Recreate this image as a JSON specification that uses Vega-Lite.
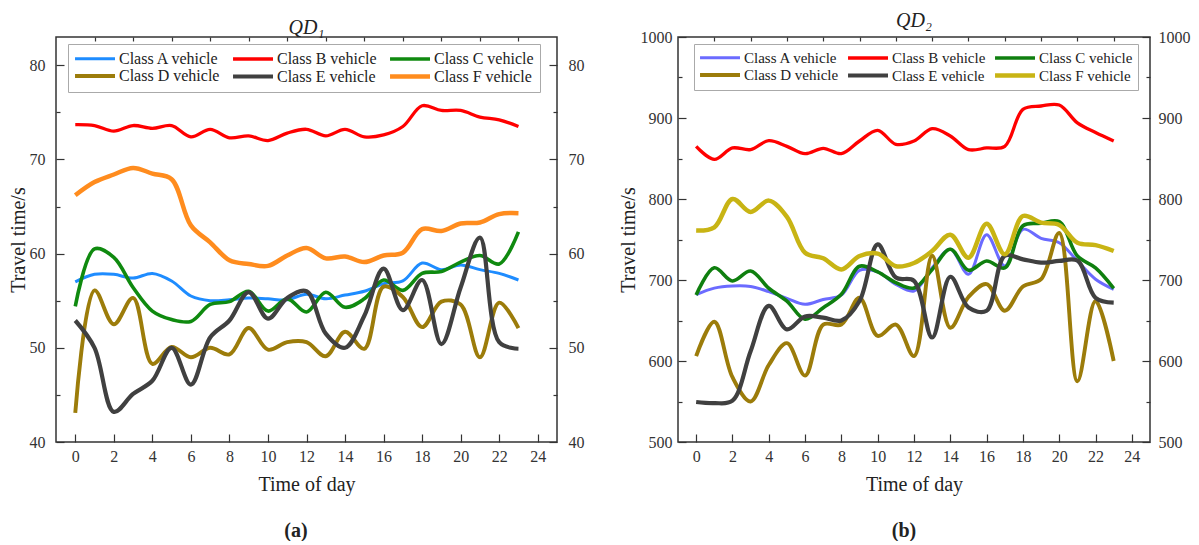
{
  "$schema": "https://vega.github.io/schema/vega-lite/v6.json",
  "padding": {"left": 7, "top": 10, "right": 2, "bottom": 0},
  "config": {
    "font": "Liberation Serif",
    "view": {"stroke": "#333333", "strokeWidth": 1.5},
    "axis": {
      "domain": false, "grid": false, "labelOverlap": false, "labelFlush": false,
      "labelFont": "Liberation Serif", "labelFontSize": 16, "labelColor": "#333333",
      "titleFont": "Liberation Serif", "titleFontSize": 20, "titleFontWeight": "normal", "titleColor": "#222222",
      "tickColor": "#333333", "tickWidth": 1.2
    },
    "legend": {
      "orient": "none", "columns": 3, "direction": "horizontal", "title": null,
      "symbolType": "M-1.21,0H4.5", "symbolSize": 196, "symbolStrokeWidth": 3,
      "labelFont": "Liberation Serif", "labelFontSize": 16, "labelColor": "#222222",
      "labelOffset": 26, "columnPadding": 4, "rowPadding": 0, "padding": 6,
      "strokeColor": "#aaaaaa", "fillColor": "#ffffff", "labelLimit": 200
    },
    "title": {"font": "Liberation Serif", "color": "#222222"}
  },
  "datasets": {
    "qd1": [
      {"class":"Class A vehicle","hour":0,"time":57.0},{"class":"Class A vehicle","hour":1,"time":57.8},{"class":"Class A vehicle","hour":2,"time":57.8},{"class":"Class A vehicle","hour":3,"time":57.4},{"class":"Class A vehicle","hour":4,"time":57.9},{"class":"Class A vehicle","hour":5,"time":57.1},{"class":"Class A vehicle","hour":6,"time":55.5},{"class":"Class A vehicle","hour":7,"time":55.0},{"class":"Class A vehicle","hour":8,"time":55.1},{"class":"Class A vehicle","hour":9,"time":55.3},{"class":"Class A vehicle","hour":10,"time":55.2},{"class":"Class A vehicle","hour":11,"time":55.1},{"class":"Class A vehicle","hour":12,"time":55.7},{"class":"Class A vehicle","hour":13,"time":55.2},{"class":"Class A vehicle","hour":14,"time":55.6},{"class":"Class A vehicle","hour":15,"time":56.0},{"class":"Class A vehicle","hour":16,"time":56.8},{"class":"Class A vehicle","hour":17,"time":57.1},{"class":"Class A vehicle","hour":18,"time":59.0},{"class":"Class A vehicle","hour":19,"time":58.3},{"class":"Class A vehicle","hour":20,"time":58.8},{"class":"Class A vehicle","hour":21,"time":58.3},{"class":"Class A vehicle","hour":22,"time":57.9},{"class":"Class A vehicle","hour":23,"time":57.2},
      {"class":"Class B vehicle","hour":0,"time":73.7},{"class":"Class B vehicle","hour":1,"time":73.6},{"class":"Class B vehicle","hour":2,"time":73.0},{"class":"Class B vehicle","hour":3,"time":73.6},{"class":"Class B vehicle","hour":4,"time":73.3},{"class":"Class B vehicle","hour":5,"time":73.6},{"class":"Class B vehicle","hour":6,"time":72.4},{"class":"Class B vehicle","hour":7,"time":73.2},{"class":"Class B vehicle","hour":8,"time":72.3},{"class":"Class B vehicle","hour":9,"time":72.5},{"class":"Class B vehicle","hour":10,"time":72.0},{"class":"Class B vehicle","hour":11,"time":72.8},{"class":"Class B vehicle","hour":12,"time":73.2},{"class":"Class B vehicle","hour":13,"time":72.5},{"class":"Class B vehicle","hour":14,"time":73.2},{"class":"Class B vehicle","hour":15,"time":72.4},{"class":"Class B vehicle","hour":16,"time":72.6},{"class":"Class B vehicle","hour":17,"time":73.5},{"class":"Class B vehicle","hour":18,"time":75.7},{"class":"Class B vehicle","hour":19,"time":75.2},{"class":"Class B vehicle","hour":20,"time":75.2},{"class":"Class B vehicle","hour":21,"time":74.5},{"class":"Class B vehicle","hour":22,"time":74.2},{"class":"Class B vehicle","hour":23,"time":73.5},
      {"class":"Class C vehicle","hour":0,"time":54.4},{"class":"Class C vehicle","hour":1,"time":60.5},{"class":"Class C vehicle","hour":2,"time":59.6},{"class":"Class C vehicle","hour":3,"time":56.4},{"class":"Class C vehicle","hour":4,"time":53.9},{"class":"Class C vehicle","hour":5,"time":53.0},{"class":"Class C vehicle","hour":6,"time":52.8},{"class":"Class C vehicle","hour":7,"time":54.6},{"class":"Class C vehicle","hour":8,"time":54.9},{"class":"Class C vehicle","hour":9,"time":56.0},{"class":"Class C vehicle","hour":10,"time":53.9},{"class":"Class C vehicle","hour":11,"time":55.2},{"class":"Class C vehicle","hour":12,"time":53.8},{"class":"Class C vehicle","hour":13,"time":55.9},{"class":"Class C vehicle","hour":14,"time":54.3},{"class":"Class C vehicle","hour":15,"time":55.2},{"class":"Class C vehicle","hour":16,"time":57.2},{"class":"Class C vehicle","hour":17,"time":56.1},{"class":"Class C vehicle","hour":18,"time":57.9},{"class":"Class C vehicle","hour":19,"time":58.1},{"class":"Class C vehicle","hour":20,"time":59.1},{"class":"Class C vehicle","hour":21,"time":59.8},{"class":"Class C vehicle","hour":22,"time":58.9},{"class":"Class C vehicle","hour":23,"time":62.3},
      {"class":"Class D vehicle","hour":0,"time":43.1},{"class":"Class D vehicle","hour":1,"time":56.1},{"class":"Class D vehicle","hour":2,"time":52.5},{"class":"Class D vehicle","hour":3,"time":55.3},{"class":"Class D vehicle","hour":4,"time":48.3},{"class":"Class D vehicle","hour":5,"time":50.1},{"class":"Class D vehicle","hour":6,"time":49.0},{"class":"Class D vehicle","hour":7,"time":50.0},{"class":"Class D vehicle","hour":8,"time":49.3},{"class":"Class D vehicle","hour":9,"time":52.1},{"class":"Class D vehicle","hour":10,"time":49.8},{"class":"Class D vehicle","hour":11,"time":50.6},{"class":"Class D vehicle","hour":12,"time":50.6},{"class":"Class D vehicle","hour":13,"time":49.1},{"class":"Class D vehicle","hour":14,"time":51.7},{"class":"Class D vehicle","hour":15,"time":49.9},{"class":"Class D vehicle","hour":16,"time":56.5},{"class":"Class D vehicle","hour":17,"time":55.4},{"class":"Class D vehicle","hour":18,"time":52.2},{"class":"Class D vehicle","hour":19,"time":54.9},{"class":"Class D vehicle","hour":20,"time":54.6},{"class":"Class D vehicle","hour":21,"time":49.0},{"class":"Class D vehicle","hour":22,"time":54.8},{"class":"Class D vehicle","hour":23,"time":52.1},
      {"class":"Class E vehicle","hour":0,"time":52.9},{"class":"Class E vehicle","hour":1,"time":50.0},{"class":"Class E vehicle","hour":2,"time":43.2},{"class":"Class E vehicle","hour":3,"time":45.1},{"class":"Class E vehicle","hour":4,"time":46.5},{"class":"Class E vehicle","hour":5,"time":50.0},{"class":"Class E vehicle","hour":6,"time":46.1},{"class":"Class E vehicle","hour":7,"time":51.1},{"class":"Class E vehicle","hour":8,"time":52.9},{"class":"Class E vehicle","hour":9,"time":55.9},{"class":"Class E vehicle","hour":10,"time":53.1},{"class":"Class E vehicle","hour":11,"time":55.3},{"class":"Class E vehicle","hour":12,"time":56.0},{"class":"Class E vehicle","hour":13,"time":51.5},{"class":"Class E vehicle","hour":14,"time":50.0},{"class":"Class E vehicle","hour":15,"time":53.4},{"class":"Class E vehicle","hour":16,"time":58.4},{"class":"Class E vehicle","hour":17,"time":54.0},{"class":"Class E vehicle","hour":18,"time":57.2},{"class":"Class E vehicle","hour":19,"time":50.4},{"class":"Class E vehicle","hour":20,"time":56.4},{"class":"Class E vehicle","hour":21,"time":61.7},{"class":"Class E vehicle","hour":22,"time":50.6},{"class":"Class E vehicle","hour":23,"time":49.9},
      {"class":"Class F vehicle","hour":0,"time":66.2},{"class":"Class F vehicle","hour":1,"time":67.6},{"class":"Class F vehicle","hour":2,"time":68.4},{"class":"Class F vehicle","hour":3,"time":69.1},{"class":"Class F vehicle","hour":4,"time":68.5},{"class":"Class F vehicle","hour":5,"time":67.9},{"class":"Class F vehicle","hour":6,"time":63.0},{"class":"Class F vehicle","hour":7,"time":61.2},{"class":"Class F vehicle","hour":8,"time":59.3},{"class":"Class F vehicle","hour":9,"time":58.9},{"class":"Class F vehicle","hour":10,"time":58.7},{"class":"Class F vehicle","hour":11,"time":59.8},{"class":"Class F vehicle","hour":12,"time":60.6},{"class":"Class F vehicle","hour":13,"time":59.5},{"class":"Class F vehicle","hour":14,"time":59.7},{"class":"Class F vehicle","hour":15,"time":59.1},{"class":"Class F vehicle","hour":16,"time":59.8},{"class":"Class F vehicle","hour":17,"time":60.1},{"class":"Class F vehicle","hour":18,"time":62.6},{"class":"Class F vehicle","hour":19,"time":62.4},{"class":"Class F vehicle","hour":20,"time":63.2},{"class":"Class F vehicle","hour":21,"time":63.3},{"class":"Class F vehicle","hour":22,"time":64.2},{"class":"Class F vehicle","hour":23,"time":64.3}
    ],
    "qd2": [
      {"class":"Class A vehicle","hour":0,"time":682},{"class":"Class A vehicle","hour":1,"time":690},{"class":"Class A vehicle","hour":2,"time":692.6},{"class":"Class A vehicle","hour":3,"time":692},{"class":"Class A vehicle","hour":4,"time":685.6},{"class":"Class A vehicle","hour":5,"time":677.4},{"class":"Class A vehicle","hour":6,"time":670},{"class":"Class A vehicle","hour":7,"time":676},{"class":"Class A vehicle","hour":8,"time":681.5},{"class":"Class A vehicle","hour":9,"time":712},{"class":"Class A vehicle","hour":10,"time":710},{"class":"Class A vehicle","hour":11,"time":694.7},{"class":"Class A vehicle","hour":12,"time":686.4},{"class":"Class A vehicle","hour":13,"time":715},{"class":"Class A vehicle","hour":14,"time":737.9},{"class":"Class A vehicle","hour":15,"time":707},{"class":"Class A vehicle","hour":16,"time":756},{"class":"Class A vehicle","hour":17,"time":717.3},{"class":"Class A vehicle","hour":18,"time":762.6},{"class":"Class A vehicle","hour":19,"time":751.5},{"class":"Class A vehicle","hour":20,"time":746},{"class":"Class A vehicle","hour":21,"time":723.5},{"class":"Class A vehicle","hour":22,"time":701},{"class":"Class A vehicle","hour":23,"time":688.5},
      {"class":"Class B vehicle","hour":0,"time":865},{"class":"Class B vehicle","hour":1,"time":849},{"class":"Class B vehicle","hour":2,"time":863},{"class":"Class B vehicle","hour":3,"time":861},{"class":"Class B vehicle","hour":4,"time":872},{"class":"Class B vehicle","hour":5,"time":865},{"class":"Class B vehicle","hour":6,"time":856},{"class":"Class B vehicle","hour":7,"time":862.6},{"class":"Class B vehicle","hour":8,"time":856},{"class":"Class B vehicle","hour":9,"time":871.6},{"class":"Class B vehicle","hour":10,"time":884.8},{"class":"Class B vehicle","hour":11,"time":867.5},{"class":"Class B vehicle","hour":12,"time":871.6},{"class":"Class B vehicle","hour":13,"time":886.8},{"class":"Class B vehicle","hour":14,"time":877.8},{"class":"Class B vehicle","hour":15,"time":861},{"class":"Class B vehicle","hour":16,"time":863},{"class":"Class B vehicle","hour":17,"time":865},{"class":"Class B vehicle","hour":18,"time":910.7},{"class":"Class B vehicle","hour":19,"time":914.8},{"class":"Class B vehicle","hour":20,"time":916},{"class":"Class B vehicle","hour":21,"time":894},{"class":"Class B vehicle","hour":22,"time":882},{"class":"Class B vehicle","hour":23,"time":871.6},
      {"class":"Class C vehicle","hour":0,"time":681.5},{"class":"Class C vehicle","hour":1,"time":715},{"class":"Class C vehicle","hour":2,"time":698.8},{"class":"Class C vehicle","hour":3,"time":711},{"class":"Class C vehicle","hour":4,"time":689.8},{"class":"Class C vehicle","hour":5,"time":674},{"class":"Class C vehicle","hour":6,"time":651.5},{"class":"Class C vehicle","hour":7,"time":665.8},{"class":"Class C vehicle","hour":8,"time":682.3},{"class":"Class C vehicle","hour":9,"time":717},{"class":"Class C vehicle","hour":10,"time":710},{"class":"Class C vehicle","hour":11,"time":696.7},{"class":"Class C vehicle","hour":12,"time":690},{"class":"Class C vehicle","hour":13,"time":713},{"class":"Class C vehicle","hour":14,"time":738},{"class":"Class C vehicle","hour":15,"time":712},{"class":"Class C vehicle","hour":16,"time":723.5},{"class":"Class C vehicle","hour":17,"time":715},{"class":"Class C vehicle","hour":18,"time":767},{"class":"Class C vehicle","hour":19,"time":770},{"class":"Class C vehicle","hour":20,"time":772},{"class":"Class C vehicle","hour":21,"time":729.6},{"class":"Class C vehicle","hour":22,"time":715},{"class":"Class C vehicle","hour":23,"time":689.8},
      {"class":"Class D vehicle","hour":0,"time":606},{"class":"Class D vehicle","hour":1,"time":648.5},{"class":"Class D vehicle","hour":2,"time":580},{"class":"Class D vehicle","hour":3,"time":550},{"class":"Class D vehicle","hour":4,"time":595},{"class":"Class D vehicle","hour":5,"time":622},{"class":"Class D vehicle","hour":6,"time":582},{"class":"Class D vehicle","hour":7,"time":645},{"class":"Class D vehicle","hour":8,"time":645},{"class":"Class D vehicle","hour":9,"time":678},{"class":"Class D vehicle","hour":10,"time":631},{"class":"Class D vehicle","hour":11,"time":645},{"class":"Class D vehicle","hour":12,"time":606},{"class":"Class D vehicle","hour":13,"time":730},{"class":"Class D vehicle","hour":14,"time":641},{"class":"Class D vehicle","hour":15,"time":679},{"class":"Class D vehicle","hour":16,"time":695},{"class":"Class D vehicle","hour":17,"time":662},{"class":"Class D vehicle","hour":18,"time":692},{"class":"Class D vehicle","hour":19,"time":701},{"class":"Class D vehicle","hour":20,"time":758},{"class":"Class D vehicle","hour":21,"time":575},{"class":"Class D vehicle","hour":22,"time":674},{"class":"Class D vehicle","hour":23,"time":600},
      {"class":"Class E vehicle","hour":0,"time":549.4},{"class":"Class E vehicle","hour":1,"time":548},{"class":"Class E vehicle","hour":2,"time":551},{"class":"Class E vehicle","hour":3,"time":612},{"class":"Class E vehicle","hour":4,"time":668},{"class":"Class E vehicle","hour":5,"time":639},{"class":"Class E vehicle","hour":6,"time":655},{"class":"Class E vehicle","hour":7,"time":653.5},{"class":"Class E vehicle","hour":8,"time":650},{"class":"Class E vehicle","hour":9,"time":674},{"class":"Class E vehicle","hour":10,"time":744},{"class":"Class E vehicle","hour":11,"time":703},{"class":"Class E vehicle","hour":12,"time":699},{"class":"Class E vehicle","hour":13,"time":629},{"class":"Class E vehicle","hour":14,"time":704},{"class":"Class E vehicle","hour":15,"time":666},{"class":"Class E vehicle","hour":16,"time":662},{"class":"Class E vehicle","hour":17,"time":730},{"class":"Class E vehicle","hour":18,"time":725.5},{"class":"Class E vehicle","hour":19,"time":721.4},{"class":"Class E vehicle","hour":20,"time":723.5},{"class":"Class E vehicle","hour":21,"time":724},{"class":"Class E vehicle","hour":22,"time":678},{"class":"Class E vehicle","hour":23,"time":672},
      {"class":"Class F vehicle","hour":0,"time":761},{"class":"Class F vehicle","hour":1,"time":765},{"class":"Class F vehicle","hour":2,"time":800},{"class":"Class F vehicle","hour":3,"time":784},{"class":"Class F vehicle","hour":4,"time":798},{"class":"Class F vehicle","hour":5,"time":778},{"class":"Class F vehicle","hour":6,"time":733.7},{"class":"Class F vehicle","hour":7,"time":726.8},{"class":"Class F vehicle","hour":8,"time":713},{"class":"Class F vehicle","hour":9,"time":729.6},{"class":"Class F vehicle","hour":10,"time":732.5},{"class":"Class F vehicle","hour":11,"time":717},{"class":"Class F vehicle","hour":12,"time":721},{"class":"Class F vehicle","hour":13,"time":735.8},{"class":"Class F vehicle","hour":14,"time":756},{"class":"Class F vehicle","hour":15,"time":727.5},{"class":"Class F vehicle","hour":16,"time":769.5},{"class":"Class F vehicle","hour":17,"time":731.7},{"class":"Class F vehicle","hour":18,"time":779},{"class":"Class F vehicle","hour":19,"time":770.8},{"class":"Class F vehicle","hour":20,"time":768},{"class":"Class F vehicle","hour":21,"time":746},{"class":"Class F vehicle","hour":22,"time":743},{"class":"Class F vehicle","hour":23,"time":735.8}
    ]
  },
  "spacing": 32,
  "resolve": {"scale": {"color": "independent", "strokeWidth": "independent", "x": "independent", "y": "independent"}},
  "hconcat": [
    {
      "title": {"text": "(a)", "orient": "bottom", "anchor": "middle", "fontSize": 20, "fontWeight": "bold", "offset": 26},
      "vconcat": [
        {
          "title": {"text": "QD₁", "fontSize": 20, "fontStyle": "italic", "fontWeight": "normal", "offset": -2},
          "width": 501, "height": 405,
          "data": {"name": "qd1"},
          "resolve": {"axis": {"x": "independent", "y": "independent"}},
          "layer": [
            {
              "mark": {"type": "line", "interpolate": "catmull-rom"},
              "encoding": {
                "x": {"field": "hour", "type": "quantitative", "scale": {"domain": [-1, 25], "nice": false},
                      "axis": {"title": "Time of day", "values": [0,2,4,6,8,10,12,14,16,18,20,22,24],
                               "tickSize": -8, "labelPadding": 14, "titlePadding": 10}},
                "y": {"field": "time", "type": "quantitative", "scale": {"domain": [40, 83], "nice": false, "zero": false},
                      "axis": {"title": "Travel time/s", "values": [40,50,60,70,80],
                               "tickSize": -8, "labelPadding": 19, "titlePadding": 1}},
                "color": {"field": "class", "type": "nominal",
                          "scale": {"domain": ["Class A vehicle","Class B vehicle","Class C vehicle","Class D vehicle","Class E vehicle","Class F vehicle"],
                                    "range": ["#1e8cff","#ff0000","#0f8a0f","#9c7c0a","#404040","#ff8c1e"]},
                          "legend": {"legendX": 12, "legendY": 7}},
                "strokeWidth": {"field": "class", "type": "nominal",
                                "scale": {"domain": ["Class A vehicle","Class B vehicle","Class C vehicle","Class D vehicle","Class E vehicle","Class F vehicle"],
                                          "range": [3, 4.5, 3, 3, 3, 3]}, "legend": null}
              }
            },
            {
              "mark": {"type": "line", "opacity": 0},
              "encoding": {
                "x": {"field": "hour", "type": "quantitative",
                      "axis": {"title": null, "values": [1,3,5,7,9,11,13,15,17,19,21,23], "labels": false, "tickSize": -4}},
                "y": {"field": "time", "type": "quantitative",
                      "axis": {"orient": "right", "title": null, "values": [40,50,60,70,80], "tickSize": -8, "labelPadding": 19}}
              }
            },
            {
              "mark": {"type": "line", "opacity": 0},
              "encoding": {
                "x": {"field": "hour", "type": "quantitative", "axis": null},
                "y": {"field": "time", "type": "quantitative",
                      "axis": {"title": null, "values": [45,55,65,75], "labels": false, "tickSize": -4}}
              }
            },
            {
              "mark": {"type": "line", "opacity": 0},
              "encoding": {
                "x": {"field": "hour", "type": "quantitative", "axis": null},
                "y": {"field": "time", "type": "quantitative",
                      "axis": {"orient": "right", "title": null, "values": [45,55,65,75], "labels": false, "tickSize": -4}}
              }
            }
          ]
        }
      ]
    },
    {
      "title": {"text": "(b)", "orient": "bottom", "anchor": "middle", "fontSize": 20, "fontWeight": "bold", "offset": 26},
      "vconcat": [
        {
          "title": {"text": "QD₂", "fontSize": 20, "fontStyle": "italic", "fontWeight": "normal", "offset": -2},
          "width": 472, "height": 405,
          "data": {"name": "qd2"},
          "resolve": {"axis": {"x": "independent", "y": "independent"}},
          "layer": [
            {
              "mark": {"type": "line", "interpolate": "catmull-rom"},
              "encoding": {
                "x": {"field": "hour", "type": "quantitative", "scale": {"domain": [-1, 25], "nice": false},
                      "axis": {"title": "Time of day", "values": [0,2,4,6,8,10,12,14,16,18,20,22,24],
                               "tickSize": -8, "labelPadding": 14, "titlePadding": 10}},
                "y": {"field": "time", "type": "quantitative", "scale": {"domain": [500, 1000], "nice": false, "zero": false},
                      "axis": {"title": "Travel time/s", "values": [500,600,700,800,900,1000], "format": "d",
                               "tickSize": -8, "labelPadding": 14, "titlePadding": 2}},
                "color": {"field": "class", "type": "nominal",
                          "scale": {"domain": ["Class A vehicle","Class B vehicle","Class C vehicle","Class D vehicle","Class E vehicle","Class F vehicle"],
                                    "range": ["#6b6bff","#ff0000","#0f7f0f","#9c7c0a","#404040","#c8b414"]},
                          "legend": {"legendX": 16, "legendY": 7, "labelFontSize": 15, "columnPadding": 0, "padding": 5}},
                "strokeWidth": {"field": "class", "type": "nominal",
                                "scale": {"domain": ["Class A vehicle","Class B vehicle","Class C vehicle","Class D vehicle","Class E vehicle","Class F vehicle"],
                                          "range": [3, 4.5, 3, 3, 3, 3]}, "legend": null}
              }
            },
            {
              "mark": {"type": "line", "opacity": 0},
              "encoding": {
                "x": {"field": "hour", "type": "quantitative",
                      "axis": {"title": null, "values": [1,3,5,7,9,11,13,15,17,19,21,23], "labels": false, "tickSize": -4}},
                "y": {"field": "time", "type": "quantitative",
                      "axis": {"orient": "right", "title": null, "values": [500,600,700,800,900,1000], "format": "d", "tickSize": -8, "labelPadding": 16}}
              }
            },
            {
              "mark": {"type": "line", "opacity": 0},
              "encoding": {
                "x": {"field": "hour", "type": "quantitative", "axis": null},
                "y": {"field": "time", "type": "quantitative",
                      "axis": {"title": null, "values": [550,650,750,850,950], "labels": false, "tickSize": -4}}
              }
            },
            {
              "mark": {"type": "line", "opacity": 0},
              "encoding": {
                "x": {"field": "hour", "type": "quantitative", "axis": null},
                "y": {"field": "time", "type": "quantitative",
                      "axis": {"orient": "right", "title": null, "values": [550,650,750,850,950], "labels": false, "tickSize": -4}}
              }
            }
          ]
        }
      ]
    }
  ]
}
